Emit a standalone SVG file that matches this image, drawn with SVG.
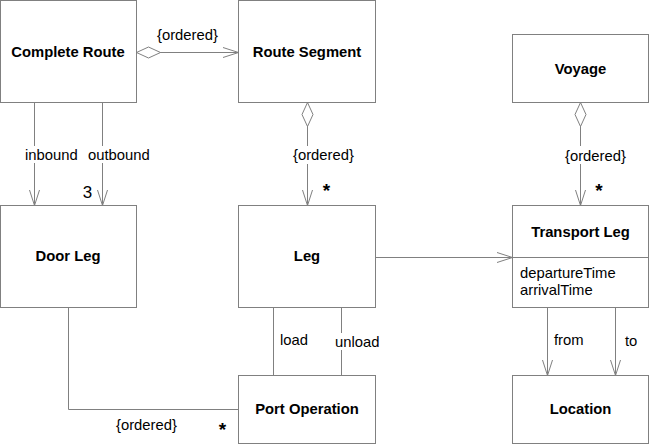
<svg xmlns="http://www.w3.org/2000/svg" width="650" height="445" viewBox="0 0 650 445">
<style>
.box{fill:#fff;stroke:#808080;stroke-width:1}
.ln{fill:none;stroke:#808080;stroke-width:1}
.t{font-family:"Liberation Sans",Arial,sans-serif;font-size:14.8px;font-weight:bold;fill:#000;text-anchor:middle;dominant-baseline:central}
.l{font-family:"Liberation Sans",Arial,sans-serif;font-size:14.8px;fill:#000;dominant-baseline:central}
.m{font-family:"Liberation Sans",Arial,sans-serif;font-size:17px;fill:#000;text-anchor:middle;dominant-baseline:central}
.s{font-family:"Liberation Sans",Arial,sans-serif;font-size:19px;font-weight:bold;fill:#000;text-anchor:middle}
.bg{fill:#fff;stroke:none}
</style>
<defs>
<marker id="arr" markerUnits="userSpaceOnUse" markerWidth="18" markerHeight="12" refX="16" refY="6" orient="auto" overflow="visible">
<path d="M0.5,1 L16,6 L0.5,11" fill="none" stroke="#808080" stroke-width="1"/>
</marker>
<marker id="dia" markerUnits="userSpaceOnUse" markerWidth="26" markerHeight="12" refX="0" refY="6" orient="auto" overflow="visible">
<path d="M0,6 L12,0.5 L24,6 L12,11.5 Z" fill="#fff" stroke="#808080" stroke-width="1"/>
</marker>
</defs>
<g id="connectors">
<path class="ln" d="M136.5,52.5 L238.5,52.5" marker-start="url(#dia)" marker-end="url(#arr)"/>
<path class="ln" d="M34.5,102.5 L34.5,205.5" marker-end="url(#arr)"/>
<path class="ln" d="M102.5,102.5 L102.5,205.5" marker-end="url(#arr)"/>
<path class="ln" d="M307.5,102.5 L307.5,205.5" marker-start="url(#dia)" marker-end="url(#arr)"/>
<path class="ln" d="M580.5,102.5 L580.5,205.5" marker-start="url(#dia)" marker-end="url(#arr)"/>
<path class="ln" d="M375.5,257.5 L512.5,257.5" marker-end="url(#arr)"/>
<path class="ln" d="M547.5,307.5 L547.5,375.5" marker-end="url(#arr)"/>
<path class="ln" d="M615.5,307.5 L615.5,375.5" marker-end="url(#arr)"/>
<path class="ln" d="M273.5,307.5 L273.5,375.5"/>
<path class="ln" d="M341.5,307.5 L341.5,375.5"/>
<path class="ln" d="M68.5,307.5 L68.5,409.5 L238.5,409.5"/>
<rect class="bg" x="24" y="146" width="54" height="17"/>
<rect class="bg" x="87" y="146" width="64" height="17"/>
<rect class="bg" x="292" y="146" width="64" height="18"/>
<rect class="bg" x="564" y="146" width="65" height="18"/>
<rect class="bg" x="334" y="333" width="48" height="17"/>
<text class="l" x="157" y="35">{ordered}</text>
<text class="l" x="25" y="155">inbound</text>
<text class="l" x="88" y="155">outbound</text>
<text class="m" x="87.5" y="192">3</text>
<text class="l" x="293" y="155">{ordered}</text>
<text class="s" x="326.5" y="197">*</text>
<text class="l" x="565" y="156">{ordered}</text>
<text class="s" x="599" y="197">*</text>
<text class="l" x="554" y="340">from</text>
<text class="l" x="625" y="341">to</text>
<text class="l" x="280" y="340">load</text>
<text class="l" x="335" y="342">unload</text>
<text class="l" x="116" y="425">{ordered}</text>
<text class="s" x="222.5" y="436">*</text>
</g>
<g id="complete-route">
<rect class="box" x="0.5" y="0.5" width="136" height="102"/>
<text class="t" x="68" y="52">Complete Route</text>
</g>
<g id="route-segment">
<rect class="box" x="238.5" y="0.5" width="137" height="102"/>
<text class="t" x="307" y="52">Route Segment</text>
</g>
<g id="voyage">
<rect class="box" x="512.5" y="34.5" width="136" height="68"/>
<text class="t" x="580.5" y="69">Voyage</text>
</g>
<g id="door-leg">
<rect class="box" x="0.5" y="205.5" width="136" height="102"/>
<text class="t" x="68" y="256">Door Leg</text>
</g>
<g id="leg">
<rect class="box" x="238.5" y="205.5" width="137" height="102"/>
<text class="t" x="307" y="256">Leg</text>
</g>
<g id="transport-leg">
<rect class="box" x="512.5" y="205.5" width="136" height="102"/>
<path class="ln" d="M512.5,257.5 L648.5,257.5"/>
<text class="t" x="580.5" y="232">Transport Leg</text>
<text class="l" x="520" y="273">departureTime</text>
<text class="l" x="520" y="290">arrivalTime</text>
</g>
<g id="port-operation">
<rect class="box" x="238.5" y="375.5" width="137" height="68"/>
<text class="t" x="307" y="409">Port Operation</text>
</g>
<g id="location">
<rect class="box" x="512.5" y="375.5" width="136" height="68"/>
<text class="t" x="580.5" y="409">Location</text>
</g>
</svg>
